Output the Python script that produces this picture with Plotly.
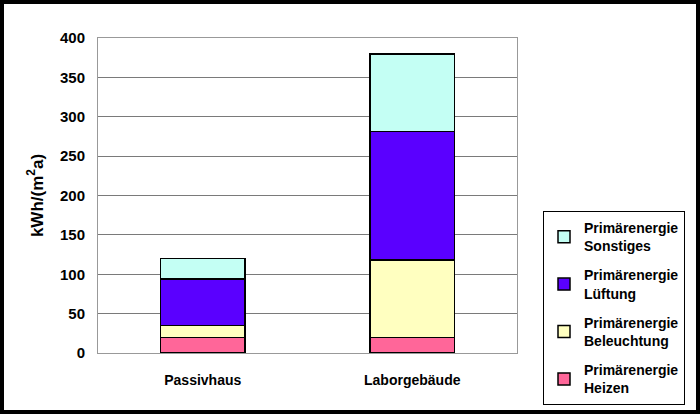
import plotly.graph_objects as go

categories = ["Passivhaus", "Laborgebäude"]
heizen = [20, 20]
beleuchtung = [15, 98]
lueftung = [59, 163]
sonstiges = [26, 99]
series_names = ["Primärenergie<br>Heizen", "Primärenergie<br>Beleuchtung",
                "Primärenergie<br>Lüftung", "Primärenergie<br>Sonstiges"]
series_values = [heizen, beleuchtung, lueftung, sonstiges]
colors = ["#FF6699", "#FFFFC0", "#5A00FF", "#C4FFF4"]
y_ticks = [0, 50, 100, 150, 200, 250, 300, 350, 400]

fig = go.Figure()
n = len(series_names)
for i, (name, vals, col) in enumerate(zip(series_names, series_values, colors)):
    fig.add_trace(go.Bar(
        x=categories, y=vals, name=name, legendgroup=f"g{i}",
        legendrank=(n - i) * 100,
        marker=dict(color=col, line=dict(color="black", width=1.5)),
        width=0.405,
    ))

W, H = 700, 414
L, R, T, B = 98, 183, 38, 61

font_family = "Liberation Sans, Arial, sans-serif"
fig.update_layout(
    width=W, height=H,
    margin=dict(l=L, r=R, t=T, b=B),
    barmode="stack",
    paper_bgcolor="white",
    plot_bgcolor="white",
    font=dict(family=font_family, color="black", size=14),
    showlegend=True,
    legend=dict(
        traceorder="grouped",
        xref="container", yref="container",
        x=543 / W, xanchor="left",
        y=1 - 211 / H, yanchor="top",
        bordercolor="black", borderwidth=1,
        bgcolor="white",
        font=dict(family=font_family, size=14, color="black", weight="bold"),
        tracegroupgap=8,
        itemwidth=30,
    ),
    xaxis=dict(
        showline=True, linecolor="#999999", linewidth=1, mirror=True,
        tickfont=dict(family=font_family, size=14, color="black", weight="bold"),
        ticklabelstandoff=14,
        showgrid=False,
    ),
    yaxis=dict(
        range=[0, 400], tickvals=y_ticks,
        showline=True, linecolor="#999999", linewidth=1, mirror=True,
        showgrid=True, gridcolor="#7a7a7a", gridwidth=1,
        tickfont=dict(family=font_family, size=15, color="black", weight="bold"),
        ticklabelstandoff=9,
        title=dict(text="kWh/(m<sup>2</sup>a)", standoff=12,
                   font=dict(family=font_family, size=17, color="black", weight="bold")),
        zeroline=False,
    ),
    shapes=[dict(
        type="rect", xref="paper", yref="paper",
        x0=(2 - L) / (W - L - R), x1=(698 - L) / (W - L - R),
        y0=(H - B - 412) / (H - T - B), y1=(H - B - 2) / (H - T - B),
        line=dict(color="black", width=4), fillcolor="rgba(0,0,0,0)", layer="above",
    )],
)

fig.write_html("out.html")
